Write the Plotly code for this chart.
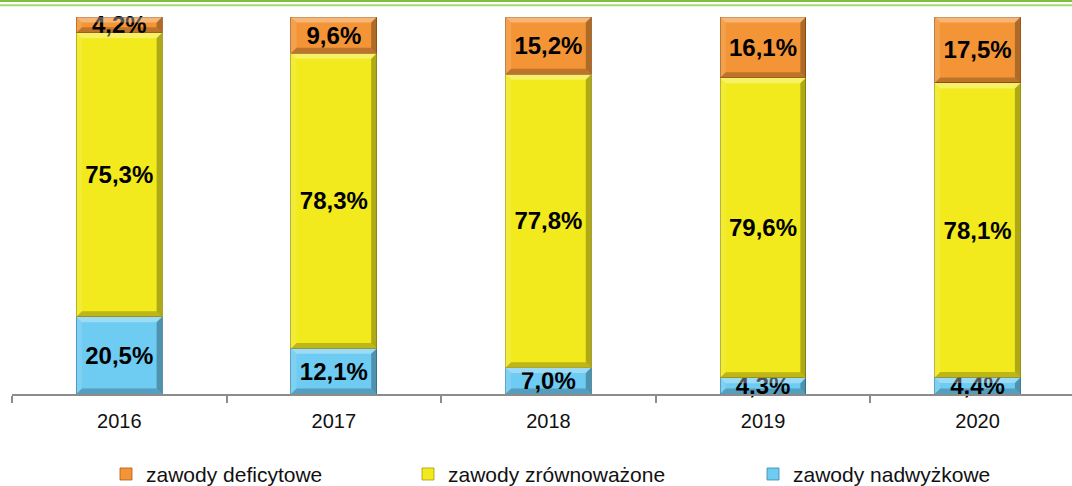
import plotly.graph_objects as go

years = ["2016", "2017", "2018", "2019", "2020"]
nadwyzkowe = [20.5, 12.1, 7.0, 4.3, 4.4]
zrownowazone = [75.3, 78.3, 77.8, 79.6, 78.1]
deficytowe = [4.2, 9.6, 15.2, 16.1, 17.5]

series = [
    ("zawody nadwyżkowe", nadwyzkowe, "#6ECBF2", "#3A86A8", "legend3"),
    ("zawody zrównoważone", zrownowazone, "#F2EA1C", "#A29C10", "legend2"),
    ("zawody deficytowe", deficytowe, "#F39436", "#A85A18", "legend"),
]
BAR_W = 0.4

def fmt(v):
    return f"{v:.1f}".replace(".", ",") + "%"

fig = go.Figure()
for name, vals, col, edge, lg in series:
    fig.add_trace(go.Bar(
        x=years, y=vals, name=name, legend=lg, showlegend=True,
        marker=dict(color=col, line=dict(color=edge, width=0.8)),
        width=BAR_W,
        text=[fmt(v) for v in vals],
        textposition="inside", insidetextanchor="middle",
        textfont=dict(family="Liberation Sans, Arial", size=24, color="black", weight="bold"),
        cliponaxis=False,
    ))

# bevel effect on each stacked segment (in data coordinates)
shapes = []
dx = 0.026
dy_full = 1.45
for i in range(len(years)):
    base = 0.0
    for _, vals, _, _, _ in series:
        y0, y1 = base, base + vals[i]
        base = y1
        x0, x1 = i - BAR_W / 2, i + BAR_W / 2
        dy = min(dy_full, (y1 - y0) / 2.5)
        ddx = dx * dy / dy_full
        pieces = [
            ([(x0, y1), (x1, y1), (x1 - ddx, y1 - dy), (x0 + ddx, y1 - dy)], "rgba(255,255,255,0.32)"),
            ([(x0, y0), (x0, y1), (x0 + ddx, y1 - dy), (x0 + ddx, y0 + dy)], "rgba(255,255,255,0.12)"),
            ([(x1, y0), (x1, y1), (x1 - ddx, y1 - dy), (x1 - ddx, y0 + dy)], "rgba(0,0,0,0.28)"),
            ([(x0, y0), (x1, y0), (x1 - ddx, y0 + dy), (x0 + ddx, y0 + dy)], "rgba(0,0,0,0.22)"),
        ]
        for pts, fc in pieces:
            path = "M " + " L ".join(f"{px},{py}" for px, py in pts) + " Z"
            shapes.append(dict(type="path", xref="x", yref="y", path=path,
                               fillcolor=fc, line=dict(width=0), layer="above"))

shapes += [
    dict(type="line", xref="paper", yref="paper", x0=-0.02, x1=1.02,
         y0=1 + 16.0 / 377, y1=1 + 16.0 / 377, line=dict(color="#7DBF3F", width=2)),
    dict(type="line", xref="paper", yref="paper", x0=-0.02, x1=1.02,
         y0=1 + 11.8 / 377, y1=1 + 11.8 / 377, line=dict(color="#A9D872", width=2)),
]

legend_common = dict(orientation="h", xref="container", yref="container", y=0.024,
                     yanchor="middle", xanchor="left", bgcolor="rgba(0,0,0,0)",
                     font=dict(family="Liberation Sans, Arial", size=21, color="#111"))

fig.update_layout(
    width=1072, height=486,
    showlegend=True,
    margin=dict(l=12, r=0, t=17, b=92),
    paper_bgcolor="white", plot_bgcolor="white",
    barmode="stack",
    uniformtext=dict(minsize=24, mode="show"),
    xaxis=dict(type="category", range=[-0.5, 4.44], showgrid=False,
               showline=True, linecolor="#8C8C8C", linewidth=1.5,
               ticks="outside", tickson="boundaries", ticklen=7, tickcolor="#8C8C8C",
               tickwidth=1.5, ticklabelstandoff=8,
               tickfont=dict(family="Liberation Sans, Arial", size=20, color="#111")),
    yaxis=dict(range=[0, 100], visible=False, showgrid=False),
    legend=dict(x=106 / 1072, **legend_common),
    legend2=dict(x=408 / 1072, **legend_common),
    legend3=dict(x=753 / 1072, **legend_common),
    shapes=shapes,
)

fig.write_html("out.html", config={"displayModeBar": False},
               post_script="document.body.style.margin='0';document.body.style.overflow='hidden';")
